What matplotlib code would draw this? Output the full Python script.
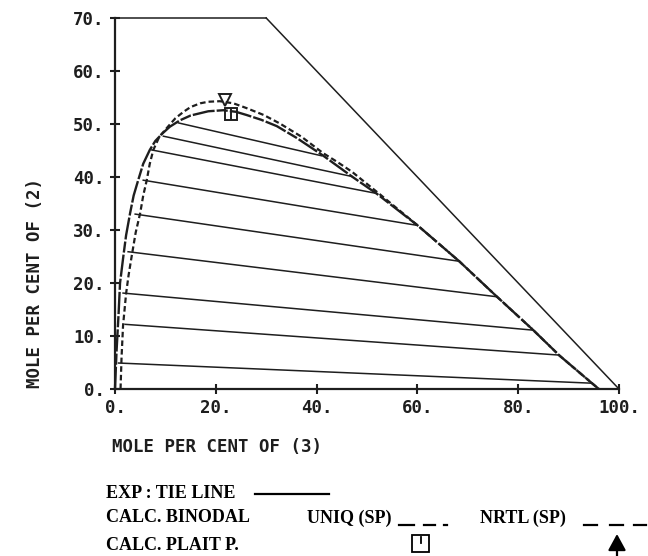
import matplotlib
matplotlib.use("Agg")
import matplotlib.pyplot as plt
from matplotlib.lines import Line2D
from matplotlib.patches import Rectangle

plt.rcParams['lines.scale_dashes'] = False

# ---- data (mole per cent) ----
tie_left_x = [12.6, 9.6, 7.3, 5.6, 4.0, 2.6, 1.6, 2.0, 0.7]
tie_left_y = [50.2, 47.7, 45.1, 39.4, 33.0, 25.9, 18.1, 12.2, 4.9]
tie_right_x = [41.0, 47.0, 51.9, 59.8, 68.3, 75.8, 83.0, 88.1, 94.5]
tie_right_y = [44.0, 40.1, 36.9, 30.9, 24.1, 17.4, 11.1, 6.4, 1.1]

uniq_x = [0.0, 0.3, 0.7, 1.0, 1.65, 2.2, 3.0, 3.7, 4.6, 5.6, 6.9, 8.0, 9.5, 10.9, 12.9,
          15.0, 18.5, 21.5, 24.0, 26.1, 29.0, 32.1, 36.0, 41.2, 47.0, 52.0, 60.0,
          68.3, 75.8, 83.0, 88.2, 94.5, 96.0]
uniq_y = [0.0, 7.0, 14.0, 20.0, 25.0, 29.0, 33.2, 36.5, 39.4, 42.5, 45.1, 46.8, 48.3, 49.5, 50.7,
          51.6, 52.4, 52.6, 52.3, 51.7, 50.8, 49.6, 47.4, 44.1, 40.1, 36.8, 30.9,
          24.1, 17.4, 11.1, 6.3, 1.2, 0.0]

nrtl_x = [1.1, 1.3, 1.6, 2.2, 2.7, 3.3, 4.1, 5.0, 5.6, 6.3, 6.9, 7.6, 8.8, 10.6, 12.0,
          13.6, 15.0, 16.9, 18.5, 20.8, 23.5, 26.1, 29.5, 32.7, 37.0, 41.3, 44.0,
          47.0, 52.6, 60.0, 68.3, 75.8, 83.0, 88.2, 94.5, 96.0]
nrtl_y = [0.0, 6.0, 12.0, 18.0, 21.5, 25.0, 29.5, 33.2, 36.5, 39.4, 42.5, 45.1, 47.6, 49.6, 51.1,
          52.3, 53.2, 53.9, 54.2, 54.3, 53.9, 53.0, 51.7, 50.1, 47.6, 44.5, 42.9,
          41.0, 36.7, 30.9, 24.1, 17.4, 11.1, 6.3, 1.2, 0.0]

plait_uniq = (23.0, 51.8)
plait_nrtl = (21.9, 54.6)

x_ticks = [0, 20, 40, 60, 80, 100]
y_ticks = [0, 10, 20, 30, 40, 50, 60, 70]
x_labels = ['0.', '20.', '40.', '60.', '80.', '100.']
y_labels = ['0.', '10.', '20.', '30.', '40.', '50.', '60.', '70.']

W, H = 648, 556
INK = '#1e1e1e'
mono = ['DejaVu Sans Mono']
serif = ['Liberation Serif']

fig = plt.figure(figsize=(W / 100, H / 100), dpi=100)
ax = fig.add_axes([115 / W, 1 - 389 / H, (619 - 115) / W, (389 - 18) / H])
ax.set_xlim(0, 100)
ax.set_ylim(0, 70)

for s in ['top', 'right']:
    ax.spines[s].set_visible(False)
for s in ['left', 'bottom']:
    ax.spines[s].set_linewidth(1.6)
    ax.spines[s].set_color(INK)

ax.set_xticks(x_ticks)
ax.set_xticklabels(x_labels, family=mono, fontsize=12.5, fontweight='bold', color=INK)
ax.set_yticks(y_ticks)
ax.set_yticklabels(y_labels, family=mono, fontsize=12.5, fontweight='bold', color=INK)
ax.tick_params(direction='inout', length=7, width=1.5, color=INK)
ax.tick_params(axis='x', pad=4)
ax.tick_params(axis='y', pad=4)

# frame of the triangle
ax.plot([0, 30], [70, 70], color=INK, lw=1.1, clip_on=False)
ax.plot([30, 100], [70, 0], color=INK, lw=1.1, clip_on=False)

# tie lines
for xl, yl, xr, yr in zip(tie_left_x, tie_left_y, tie_right_x, tie_right_y):
    ax.plot([xl, xr], [yl, yr], color=INK, lw=1.1)

# binodals
ax.plot(uniq_x, uniq_y, color=INK, lw=1.7, linestyle=(0, (16, 1.5, 8, 1.5)), clip_on=False)
ax.plot(nrtl_x, nrtl_y, color=INK, lw=1.6, linestyle=(0, (4.0, 2.2)), clip_on=False)

# plait points
ax.plot(*plait_uniq, marker='s', ms=8, mfc='none', mec=INK, mew=1.4)
ax.plot(*plait_uniq, marker='|', ms=8, mec=INK, mew=1.4)
ax.plot(*plait_nrtl, marker='v', ms=8, mfc='none', mec=INK, mew=1.4)

# axis titles
fig.text(35 / W, 1 - 388 / H, 'MOLE PER CENT OF (2)', rotation=90, ha='center', va='bottom',
         family=mono, fontsize=12.5, fontweight='bold', color=INK)
fig.text(112 / W, 1 - 447 / H, 'MOLE PER CENT OF (3)', ha='left', va='center',
         family=mono, fontsize=12.5, fontweight='bold', color=INK)

# legend block
def fx(px):
    return px / W

def fy(py):
    return 1 - py / H

tk = dict(family=serif, fontsize=13, fontweight='bold', color='black', va='center', ha='left')
fig.text(fx(106), fy(493), 'EXP : TIE LINE', **tk)
fig.add_artist(Line2D([fx(255), fx(329)], [fy(494), fy(494)], color='black', lw=1.6))

fig.text(fx(106), fy(518), 'CALC. BINODAL', **tk)
fig.text(fx(307), fy(518), 'UNIQ (SP)', **tk)
for a, b in [(398.6, 414.3), (424, 435), (444, 447)]:
    fig.add_artist(Line2D([fx(a), fx(b)], [fy(525), fy(525)], color='black', lw=1.6))
fig.text(fx(480), fy(518), 'NRTL (SP)', **tk)
for a, b in [(584, 597), (610, 622.6), (633.5, 646)]:
    fig.add_artist(Line2D([fx(a), fx(b)], [fy(525), fy(525)], color='black', lw=1.6))

fig.text(fx(106), fy(545), 'CALC. PLAIT P.', **tk)
fig.add_artist(Rectangle((fx(412), fy(552)), fx(17), 17 / H, fill=False, ec='black', lw=1.3))
fig.add_artist(Line2D([fx(420.5), fx(420.5)], [fy(537), fy(543)], color='black', lw=1.3))
ax.annotate('', xy=(fx(617), fy(534)), xytext=(fx(617), fy(558)),
            xycoords='figure fraction', textcoords='figure fraction', annotation_clip=False,
            arrowprops=dict(arrowstyle='-|>,head_length=0.55,head_width=0.3',
                            color='black', lw=1.6, mutation_scale=18,
                            shrinkA=0, shrinkB=0))

fig.savefig('out.png', dpi=100, facecolor='white')
